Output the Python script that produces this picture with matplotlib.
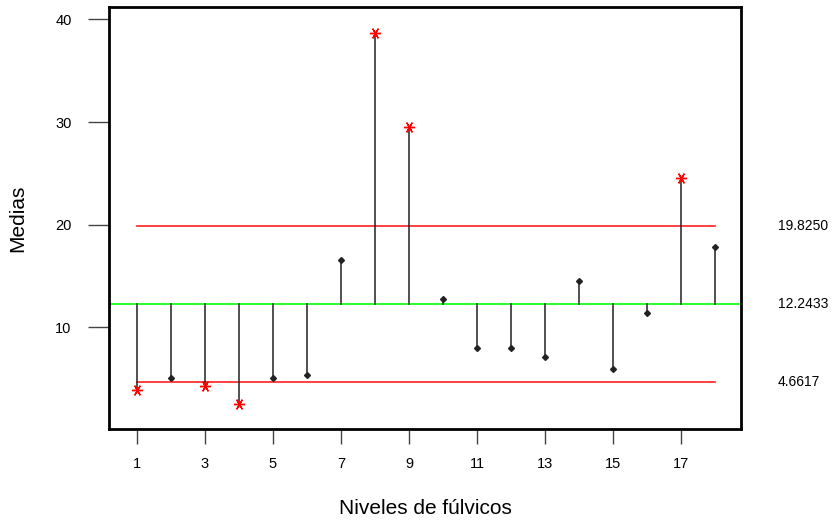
import numpy as np
import matplotlib.pyplot as plt

plt.rcParams['font.family'] = ['Liberation Sans', 'DejaVu Sans']

# medias por nivel de fúlvicos
niveles = np.arange(1, 19)
medias = [3.9, 5.1, 4.3, 2.5, 5.1, 5.4, 16.6, 38.7, 29.5,
          12.8, 8.0, 8.0, 7.1, 14.5, 5.9, 11.4, 24.5, 17.8]

centro = 12.2433
lsd = 19.8250
lid = 4.6617

xticks = [1, 3, 5, 7, 9, 11, 13, 15, 17]
yticks = [10, 20, 30, 40]

fig = plt.figure(figsize=(8.34, 5.23), dpi=100)
ax = fig.add_axes([0.1307, 0.1797, 0.7578, 0.8069])

# lineas de control
ax.axhline(centro, color='#00ff00', lw=1.2, zorder=1)
ax.plot([niveles[0], niveles[-1]], [lsd, lsd], color='#ff2020', lw=1.2, zorder=1)
ax.plot([niveles[0], niveles[-1]], [lid, lid], color='#ff2020', lw=1.2, zorder=1)

# barras desde la linea central
for x, m in zip(niveles, medias):
    ax.plot([x, x], [centro, m], color='#222222', lw=1.1, zorder=2)
    if m > lsd or m < lid:
        ax.plot(x, m, marker=(6, 2, 90), color='red', ms=8, mew=1.0, zorder=3)
    else:
        ax.plot(x, m, marker='D', color='#222222', ms=3, zorder=3)

ax.set_xlim(0.18, 18.76)
ax.set_ylim(0.1, 41.2)
ax.set_xticks(xticks)
ax.set_yticks(yticks)
ax.tick_params(axis='x', direction='out', length=11, width=1, color='#444444',
               labelsize=10.5, pad=9)
ax.tick_params(axis='y', direction='out', length=15, width=1, color='#444444',
               labelsize=10.5, pad=12)
for s in ax.spines.values():
    s.set_linewidth(2)

ax.set_xlabel('Niveles de fúlvicos', fontsize=15, labelpad=20)
ax.set_ylabel('Medias', fontsize=15, labelpad=20)

for v in (lsd, centro, lid):
    ax.annotate(f'{v:.4f}', xy=(1, v), xycoords=('axes fraction', 'data'),
                xytext=(37, 0), textcoords='offset pixels',
                va='center', ha='left', fontsize=10)

fig.savefig('out.png', dpi=100)
